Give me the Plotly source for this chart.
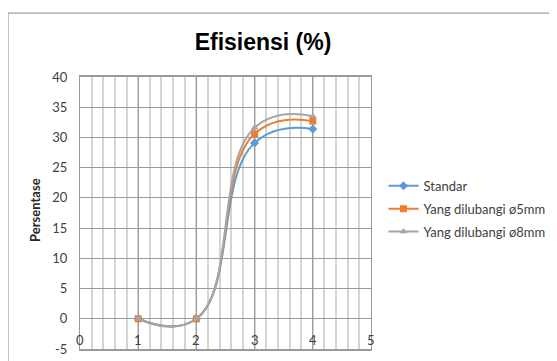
import plotly.graph_objects as go

x_vals = [1, 2, 3, 4]
standar = [0, 0, 29.1, 31.4]
lubang_5mm = [0, 0, 30.6, 32.7]
lubang_8mm = [0, 0, 31.6, 33.5]
series_names = ["Standar", "Yang dilubangi ø5mm", "Yang dilubangi ø8mm"]
x_ticks = [0, 1, 2, 3, 4, 5]
y_ticks = [-5, 0, 5, 10, 15, 20, 25, 30, 35, 40]

FONT = "Lato"
fig = go.Figure()
styles = [
    (standar, "#5B9BD5", "diamond", 7),
    (lubang_5mm, "#ED7D31", "square", 7),
    (lubang_8mm, "#A5A5A5", "triangle-up", 7),
]
for i, (name, (vals, color, sym, size)) in enumerate(zip(series_names, styles)):
    fig.add_trace(go.Scatter(
        x=x_vals, y=vals, name=name, mode="lines+markers", legendgroup=f"g{i}",
        line=dict(color=color, width=2, shape="spline", smoothing=1.3),
        marker=dict(color=color, symbol=sym, size=size),
    ))

annotations = [dict(text="<b>Persentase</b>", xref="paper", yref="paper",
                    x=-0.155, y=0.511, xanchor="center", yanchor="middle",
                    textangle=-90, showarrow=False,
                    font=dict(family=FONT, size=13, color="#262626"))]
for t in x_ticks:
    annotations.append(dict(text=str(t), xref="x", yref="y", x=t, y=-5,
                            yanchor="bottom", showarrow=False, yshift=-1,
                            font=dict(family=FONT, size=13, color="#404040")))

fig.update_layout(
    width=549, height=353,
    margin=dict(l=72, r=186, t=69, b=12, autoexpand=False),
    paper_bgcolor="white", plot_bgcolor="white",
    title=dict(text="<b>Efisiensi (%)</b>", x=0.4645, xanchor="center", y=0.904, yanchor="middle",
               font=dict(family="Liberation Sans", size=23, color="black")),
    font=dict(family=FONT, size=13, color="#404040"),
    showlegend=True,
    legend=dict(x=1.043, y=0.655, xanchor="left", yanchor="top", itemwidth=30,
                font=dict(family=FONT, size=13, color="#404040"),
                tracegroupgap=3, bgcolor="rgba(0,0,0,0)"),
    annotations=annotations,
    shapes=[dict(type="rect", xref="paper", yref="paper",
                 x0=-0.2474, x1=1.8, y0=-0.2, y1=1.235,
                 line=dict(color="#A0A0A0", width=1.2))],
)
fig.update_xaxes(
    range=[0, 5], tickvals=x_ticks, showticklabels=False, automargin=False,
    showgrid=True, gridcolor="#9A9A9A", gridwidth=1,
    minor=dict(dtick=0.2, showgrid=True, gridcolor="#D4D4D4", gridwidth=1.5),
    showline=True, linecolor="#9A9A9A", linewidth=1.5, mirror=True,
    ticks="", zeroline=False,
)
fig.update_yaxes(
    range=[-5, 40], tickvals=y_ticks, ticktext=[str(t) for t in y_ticks], automargin=False,
    showgrid=True, gridcolor="#9A9A9A", gridwidth=1,
    showline=True, linecolor="#9A9A9A", linewidth=1, mirror=True,
    zeroline=False, ticks="outside", ticklen=9, tickcolor="rgba(0,0,0,0)",
    tickfont=dict(family=FONT, size=13, color="#404040"),
)
fig.write_html("out.html")
